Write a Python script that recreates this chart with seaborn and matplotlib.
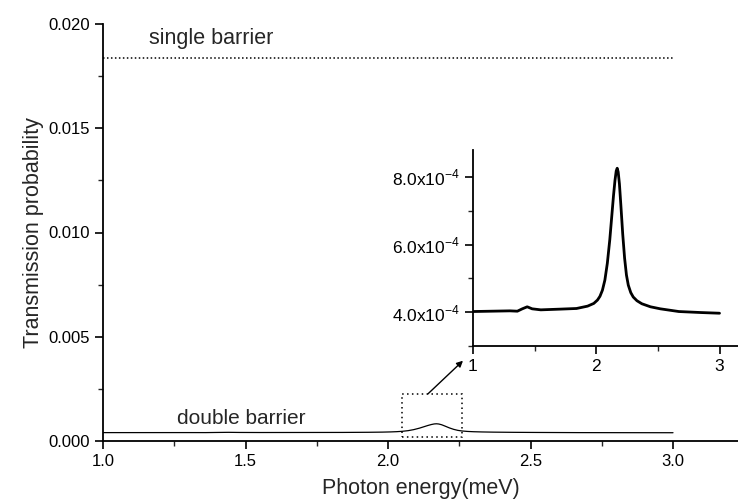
import pandas as pd
import matplotlib.pyplot as plt
import seaborn as sns
from matplotlib.patches import Rectangle
from matplotlib.ticker import MultipleLocator, FuncFormatter

# Photon energy (meV) and transmission probability
energy = [1.00, 1.15, 1.30, 1.36, 1.40, 1.44, 1.48, 1.55, 1.70, 1.84, 1.93,
          1.98, 2.01, 2.03, 2.05, 2.07, 2.09, 2.11, 2.125, 2.14, 2.152, 2.162,
          2.17, 2.178, 2.188, 2.20, 2.215, 2.23, 2.245, 2.26, 2.28, 2.30,
          2.33, 2.37, 2.44, 2.52, 2.67, 2.85, 3.00]
double_t = [4.02, 4.03, 4.04, 4.03, 4.10, 4.16, 4.10, 4.07, 4.09, 4.11, 4.18,
            4.26, 4.36, 4.47, 4.65, 4.95, 5.45, 6.15, 6.80, 7.45, 7.90, 8.18,
            8.26, 8.15, 7.80, 7.15, 6.30, 5.60, 5.10, 4.80, 4.58, 4.45,
            4.34, 4.25, 4.16, 4.10, 4.02, 3.99, 3.97]
double_t = [v * 1e-4 for v in double_t]

single_x = [1.0, 3.0]
single_t = [0.01837, 0.01837]

df_double = pd.DataFrame({'energy': energy, 'T': double_t})
df_single = pd.DataFrame({'energy': single_x, 'T': single_t})

sns.set_theme(style="ticks")
plt.rcParams['font.family'] = ['Liberation Sans', 'DejaVu Sans']
plt.rcParams['mathtext.fontset'] = 'custom'
plt.rcParams['mathtext.rm'] = 'Liberation Sans'

fig = plt.figure(figsize=(7.38, 5.0), dpi=100)
ax = fig.add_axes([0.1396, 0.118, 0.8604, 0.834])

sns.lineplot(data=df_single, x='energy', y='T', ax=ax, color='black',
             linestyle=(0, (1, 1.6)), linewidth=1.1)
sns.lineplot(data=df_double, x='energy', y='T', ax=ax, color='black',
             linewidth=0.9)

ax.set_xlim(1.0, 3.228)
ax.set_ylim(0, 0.020)
ax.xaxis.set_major_locator(MultipleLocator(0.5))
ax.xaxis.set_minor_locator(MultipleLocator(0.25))
ax.yaxis.set_major_locator(MultipleLocator(0.005))
ax.yaxis.set_minor_locator(MultipleLocator(0.0025))
ax.xaxis.set_major_formatter(FuncFormatter(lambda v, p: f'{v:.1f}'))
ax.yaxis.set_major_formatter(FuncFormatter(lambda v, p: f'{v:.3f}'))
ax.tick_params(which='major', length=6, width=1.2, labelsize=12, colors='black')
ax.tick_params(which='minor', length=3.5, width=1.0)
for s in ['top', 'right']:
    ax.spines[s].set_visible(False)
for s in ['left', 'bottom']:
    ax.spines[s].set_linewidth(1.3)
    ax.spines[s].set_color('black')
ax.set_xlabel('Photon energy(meV)', fontsize=15.5, labelpad=6)
ax.set_ylabel('Transmission probability', fontsize=15.5, labelpad=3)

ax.text(1.16, 0.0193, 'single barrier', fontsize=15.5, va='center')
ax.text(1.26, 0.00106, 'double barrier', fontsize=15, va='center')

ax.add_patch(Rectangle((2.05, 0.0002), 0.21, 0.00206, fill=False,
                       edgecolor='black', linestyle=(0, (1, 2.2)), linewidth=1.1))
ax.annotate('', xy=(2.263, 0.00385), xytext=(2.14, 0.00226),
            arrowprops=dict(arrowstyle='-|>', color='black', lw=1.0,
                            mutation_scale=9, shrinkA=0, shrinkB=0))

# inset
ins = fig.add_axes([0.6409, 0.308, 0.3591, 0.392])
ins.patch.set_alpha(0)
sns.lineplot(data=df_double, x='energy', y='T', ax=ins, color='black',
             linewidth=2.0)
ins.set_xlim(1.0, 3.15)
ins.set_ylim(3.0e-4, 8.8e-4)
ins.xaxis.set_major_locator(MultipleLocator(1))
ins.xaxis.set_minor_locator(MultipleLocator(0.5))
ins.yaxis.set_major_locator(MultipleLocator(2e-4))
ins.yaxis.set_minor_locator(MultipleLocator(1e-4))
ins.xaxis.set_major_formatter(FuncFormatter(lambda v, p: f'{v:.0f}'))
ins.yaxis.set_major_formatter(FuncFormatter(lambda v, p: f'{v * 1e4:.1f}x10$^{{-4}}$'))
ins.tick_params(which='major', length=6, width=1.2, labelsize=12.5, colors='black')
ins.tick_params(which='minor', length=3.5, width=1.0)
ins.set_xlabel('')
ins.set_ylabel('')
for s in ['top', 'right']:
    ins.spines[s].set_visible(False)
for s in ['left', 'bottom']:
    ins.spines[s].set_linewidth(1.3)
    ins.spines[s].set_color('black')

fig.savefig('out.png', dpi=100)
